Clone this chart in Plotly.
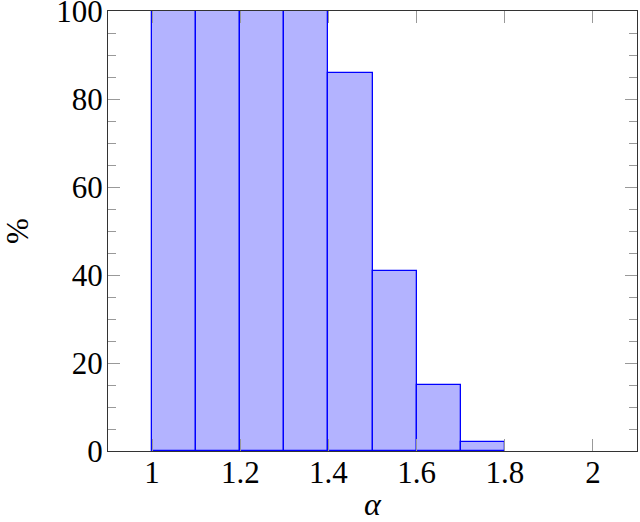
import plotly.graph_objects as go

bin_left = [1.0, 1.1, 1.2, 1.3, 1.4, 1.5, 1.6, 1.7, 1.8, 1.9]
percent = [100, 100, 100, 100, 86, 41, 15, 2, 0, 0]
x_ticks = [1, 1.2, 1.4, 1.6, 1.8, 2]
x_ticktext = ["1", "1.2", "1.4", "1.6", "1.8", "2"]
y_ticks = [0, 20, 40, 60, 80, 100]

bin_width = 0.1
shown = [(b + bin_width / 2, p) for b, p in zip(bin_left, percent) if p > 0]
centers = [c for c, _ in shown]
heights = [p for _, p in shown]

fig = go.Figure(go.Bar(
    x=centers, y=heights, width=[bin_width] * len(centers),
    marker=dict(color="rgb(179,179,255)", line=dict(color="rgb(0,0,255)", width=1.3)),
))

font = "Liberation Serif"
axis_common = dict(
    showline=True, linecolor="#333", linewidth=1.3, mirror="ticks",
    ticks="inside", tickcolor="#999", ticklen=12, tickwidth=1,
    showgrid=False, zeroline=False, automargin=False,
    ticklabeloverflow="allow",
    tickfont=dict(family=font, size=31, color="black"),
)

fig.update_layout(
    width=640, height=522,
    margin=dict(l=108, r=3, t=11, b=71),
    plot_bgcolor="white", paper_bgcolor="white",
    showlegend=False, bargap=0,
    xaxis=dict(range=[0.9, 2.1], tickvals=x_ticks, ticktext=x_ticktext,
               ticklabelstandoff=-6,
               title=dict(text="<i>α</i>", font=dict(family=font, size=32, color="black"), standoff=10),
               **axis_common),
    yaxis=dict(range=[0, 100], tickvals=y_ticks, ticklabelstandoff=-2,
               minor=dict(dtick=5, ticks="inside", ticklen=8, tickcolor="#999", showgrid=False),
               title=dict(text="%", font=dict(family=font, size=31, color="black"), standoff=40),
               **axis_common),
)

# remove the page's default 8px body margin so the figure fills the window
fig.write_html("out.html", config={"displayModeBar": False},
               post_script="document.body.style.margin='0';")
